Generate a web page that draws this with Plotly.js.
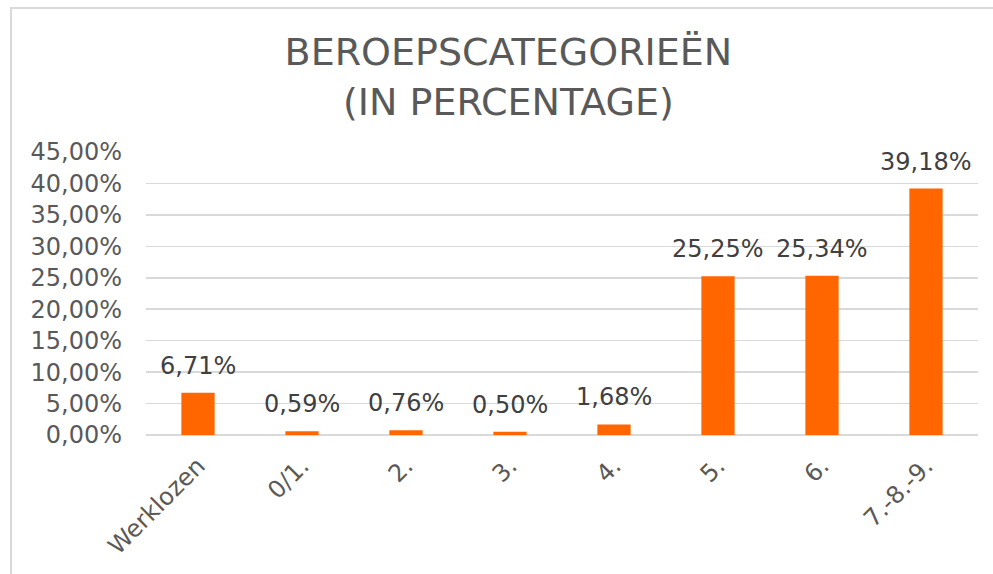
<!DOCTYPE html>
<html>
<head>
<meta charset="utf-8">
<script src="https://cdn.plot.ly/plotly-3.0.1.min.js"></script>
<style>
  html, body { margin: 0; padding: 0; background: #fff; }
  #wrap { position: relative; width: 993px; height: 574px; overflow: hidden; }
  #chart { position: absolute; left: 0; top: 0; width: 993px; height: 574px; }
  #frame { position: absolute; left: 10px; top: 7px; width: 1000px; height: 600px;
           border: 2px solid #d9d9d9; box-sizing: border-box; pointer-events: none; }
</style>
</head>
<body>
<div id="wrap">
  <div id="chart"></div>
  <div id="frame"></div>
</div>
<script>
const categories = ["Werklozen", "0/1.", "2.", "3.", "4.", "5.", "6.", "7.-8.-9."];
const values = [6.71, 0.59, 0.76, 0.50, 1.68, 25.25, 25.34, 39.18];
const valueLabels = ["6,71%", "0,59%", "0,76%", "0,50%", "1,68%", "25,25%", "25,34%", "39,18%"];
const yTickVals = [0, 5, 10, 15, 20, 25, 30, 35, 40, 45];
const yTickText = ["0,00%", "5,00%", "10,00%", "15,00%", "20,00%", "25,00%", "30,00%", "35,00%", "40,00%", "45,00%"];
const titleText = "BEROEPSCATEGORIEËN<br>(IN PERCENTAGE)";

const font = "DejaVu Sans, Verdana, sans-serif";

const trace = {
  type: "bar",
  x: categories,
  y: values,
  cliponaxis: false,
  marker: { color: "#ff6600", line: { width: 0 } },
  hoverinfo: "skip"
};

const labelAnnotations = categories.map((c, i) => ({
  x: c,
  y: values[i],
  xref: "x",
  yref: "y",
  text: valueLabels[i],
  showarrow: false,
  xanchor: "center",
  yanchor: "bottom",
  yshift: 11,
  font: { family: font, size: 24, color: "#404040" }
}));

const layout = {
  width: 993,
  height: 574,
  margin: { l: 146, r: 15, t: 152, b: 139 },
  paper_bgcolor: "rgba(0,0,0,0)",
  plot_bgcolor: "#fff",
  showlegend: false,
  bargap: 0.68,
  font: { family: font, color: "#595959" },
  annotations: labelAnnotations,
  title: {
    text: titleText,
    font: { family: font, size: 38, color: "#595959" },
    x: 0.512,
    xref: "container",
    xanchor: "center",
    y: 0.886,
    yref: "container",
    yanchor: "top"
  },
  xaxis: {
    type: "category",
    tickangle: -45,
    tickfont: { family: font, size: 24, color: "#595959" },
    showgrid: false,
    showline: false,
    ticks: "",
    zeroline: false,
    ticklabelstandoff: 11
  },
  yaxis: {
    range: [0, 45],
    tickvals: yTickVals,
    ticktext: yTickText,
    tickfont: { family: font, size: 24, color: "#595959" },
    showgrid: true,
    gridcolor: "#d9d9d9",
    gridwidth: 1.5,
    zeroline: true,
    zerolinecolor: "#d9d9d9",
    zerolinewidth: 1.5,
    showline: false,
    ticks: "",
    ticklabelstandoff: 23
  }
};

Plotly.newPlot("chart", [trace], layout, { displayModeBar: false, staticPlot: true });
</script>
</body>
</html>
